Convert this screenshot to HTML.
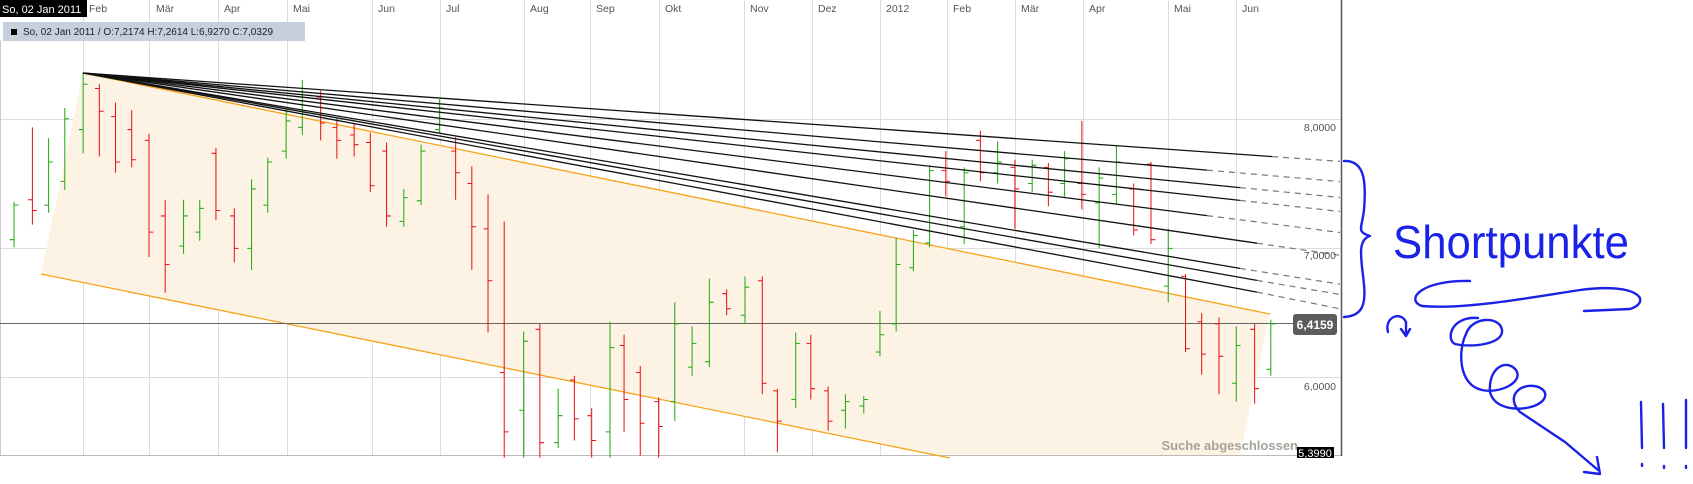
<!DOCTYPE html>
<html><head><meta charset="utf-8">
<style>
html,body{margin:0;padding:0;background:#fff;}
svg{display:block;}
text{font-family:"Liberation Sans",sans-serif;}
</style></head>
<body>
<svg width="1693" height="484" viewBox="0 0 1693 484" xmlns="http://www.w3.org/2000/svg">
<rect x="0" y="0" width="1693" height="484" fill="#fff"/>
<g stroke="#dcdcdc" stroke-width="1">
<line x1="83.5" y1="0" x2="83.5" y2="455"/><line x1="149.5" y1="0" x2="149.5" y2="455"/>
<line x1="218.5" y1="0" x2="218.5" y2="455"/><line x1="287.5" y1="0" x2="287.5" y2="455"/>
<line x1="372.5" y1="0" x2="372.5" y2="455"/><line x1="440.5" y1="0" x2="440.5" y2="455"/>
<line x1="524.5" y1="0" x2="524.5" y2="455"/><line x1="590.5" y1="0" x2="590.5" y2="455"/>
<line x1="659.5" y1="0" x2="659.5" y2="455"/><line x1="744.5" y1="0" x2="744.5" y2="455"/>
<line x1="812.5" y1="0" x2="812.5" y2="455"/><line x1="880.5" y1="0" x2="880.5" y2="455"/>
<line x1="947.5" y1="0" x2="947.5" y2="455"/><line x1="1015.5" y1="0" x2="1015.5" y2="455"/>
<line x1="1083.5" y1="0" x2="1083.5" y2="455"/><line x1="1168.5" y1="0" x2="1168.5" y2="455"/>
<line x1="1236.5" y1="0" x2="1236.5" y2="455"/>
<line x1="0" y1="119.5" x2="1341" y2="119.5"/><line x1="0" y1="248.5" x2="1341" y2="248.5"/>
<line x1="0" y1="377.5" x2="1341" y2="377.5"/>
</g>
<line x1="0" y1="455.5" x2="1341" y2="455.5" stroke="#bbb"/>
<line x1="1341.5" y1="0" x2="1341.5" y2="456" stroke="#555" stroke-width="1.5"/>
<line x1="0.5" y1="40" x2="0.5" y2="455" stroke="#ccc"/>
<polygon points="41,274 83,73 1270,314 1240,455 933,455" fill="#fdf3e4"/>
<line x1="83" y1="73" x2="1270" y2="314" stroke="#f7a21b" stroke-width="1.3"/>
<line x1="41" y1="274" x2="950" y2="458" stroke="#f7a21b" stroke-width="1.3"/>
<line x1="0" y1="323.5" x2="1294" y2="323.5" stroke="#666" stroke-width="1"/>
<g transform="scale(1.0797)" stroke-width="0.95" fill="none">
<path stroke="#22aa11" d="
M13,187V229M9,222H13M13,190H17
M45,128V197M41,190H45M45,150H49
M60,100V176M56,168H60M60,110H64
M77,68V142M73,120H77M77,78H81
M170,185V235M166,228H170M170,200H174
M185,185V223M181,215H185M185,193H189
M233,166V250M229,230H233M233,175H237
M248,146V197M244,190H248M248,150H252
M265,101V147M261,140H265M265,112H269
M280,74V125M276,118H280M280,104H284
M374,175V210M370,205H374M374,183H378
M390,134V190M386,186H390M390,140H394
M407,92V123M403,120H407M407,100H411
M485,307V424M481,380H485M485,316H489
M517,360V415M513,410H517M517,385H521
M565,298V424M561,400H565M565,322H569
M625,280V390M621,372H625M625,300H629
M641,302V348M637,340H641M641,318H645
M657,258V340M653,335H657M657,280H661
M690,256V300M686,292H690M690,266H694
M737,308V378M733,370H737M737,318H741
M783,365V397M779,380H783M783,372H787
M800,367V383M796,376H800M800,370H804
M815,288V330M811,326H815M815,310H819
M830,220V307M826,300H830M830,245H834
M846,213V251M842,248H846M846,218H850
M861,153V229M857,225H861M861,158H865
M893,155V226M889,210H893M893,160H897
M924,131V170M920,160H924M924,150H928
M956,148V178M952,170H956M956,153H960
M986,140V182M982,170H986M986,147H990
M1018,155V230M1014,188H1018M1018,165H1022
M1034,135V189M1030,180H1034M1034,150H1038
M1082,212V280M1078,265H1082M1082,230H1086
M1145,302V372M1141,355H1145M1145,320H1149
M1177,296V348M1173,342H1177M1177,300H1181"/>
<path stroke="#ee1111" d="
M30,118V208M26,185H30M30,195H34
M92,78V145M88,82H92M92,103H96
M107,95V160M103,108H107M107,150H111
M122,102V155M118,120H122M122,148H126
M138,124V238M134,130H138M138,215H142
M153,185V271M149,200H153M153,245H157
M200,137V204M196,142H200M200,195H204
M217,193V243M213,200H217M217,230H221
M297,84V130M293,90H297M297,114H301
M312,110V147M308,118H312M312,130H316
M328,115V145M324,125H328M328,134H332
M343,123V178M339,132H343M343,172H347
M358,132V210M354,140H358M358,200H362
M422,127V185M418,140H422M422,160H426
M437,154V250M433,170H437M437,210H441
M452,180V308M448,212H452M452,260H456
M467,205V424M463,345H467M467,400H471
M500,300V424M496,305H500M500,410H504
M532,348V408M528,352H532M532,388H536
M548,378V424M544,385H548M548,408H552
M578,310V400M574,320H578M578,370H582
M593,339V422M589,345H593M593,392H597
M610,368V424M606,372H610M610,395H614
M673,268V292M669,272H673M673,286H677
M706,256V365M702,260H706M706,355H710
M720,360V419M716,362H720M720,390H724
M751,310V370M747,318H751M751,360H755
M767,358V399M763,362H767M767,390H771
M876,140V182M872,158H876M876,168H880
M908,121V168M904,130H908M908,160H912
M940,148V212M936,155H940M940,175H944
M971,151V191M967,155H971M971,178H975
M1002,112V194M998,170H1002M1002,180H1006
M1050,170V218M1046,175H1050M1050,213H1054
M1066,150V226M1062,152H1066M1066,222H1070
M1098,254V326M1094,256H1098M1098,323H1102
M1113,290V347M1109,298H1113M1113,328H1117
M1129,294V365M1125,300H1129M1129,330H1133
M1162,300V374M1158,305H1162M1162,360H1166"/>
</g>
<g stroke="#111" stroke-width="1.3" fill="none">
<line x1="83" y1="73" x2="1272" y2="156.6"/>
<line x1="83" y1="73" x2="1207" y2="170.1"/>
<line x1="83" y1="73" x2="1240" y2="187.6"/>
<line x1="83" y1="73" x2="1240" y2="200.4"/>
<line x1="83" y1="73" x2="1207" y2="215.6"/>
<line x1="83" y1="73" x2="1257" y2="243.2"/>
<line x1="83" y1="73" x2="1240" y2="268.4"/>
<line x1="83" y1="73" x2="1257" y2="280.4"/>
<line x1="83" y1="73" x2="1257" y2="292.1"/>
</g>
<g stroke="#777" stroke-width="1.2" stroke-dasharray="6,5" fill="none">
<line x1="1272" y1="156.6" x2="1340" y2="161.4"/>
<line x1="1207" y1="170.1" x2="1340" y2="181.6"/>
<line x1="1240" y1="187.6" x2="1340" y2="197.5"/>
<line x1="1240" y1="200.4" x2="1340" y2="211.5"/>
<line x1="1207" y1="215.6" x2="1340" y2="232.5"/>
<line x1="1257" y1="243.2" x2="1340" y2="255.3"/>
<line x1="1240" y1="268.4" x2="1340" y2="284.2"/>
<line x1="1257" y1="280.4" x2="1340" y2="294.5"/>
<line x1="1257" y1="292.1" x2="1340" y2="308.8"/>
</g>
<rect x="0" y="0" width="87" height="17" fill="#000"/>
<text x="2" y="13" font-size="11" fill="#fff">So, 02 Jan 2011</text>
<g font-size="10.5" fill="#555">
<text x="89" y="12">Feb</text><text x="156" y="12">Mär</text><text x="224" y="12">Apr</text>
<text x="293" y="12">Mai</text><text x="378" y="12">Jun</text><text x="446" y="12">Jul</text>
<text x="530" y="12">Aug</text><text x="596" y="12">Sep</text><text x="665" y="12">Okt</text>
<text x="750" y="12">Nov</text><text x="818" y="12">Dez</text><text x="886" y="12">2012</text>
<text x="953" y="12">Feb</text><text x="1021" y="12">Mär</text><text x="1089" y="12">Apr</text>
<text x="1174" y="12">Mai</text><text x="1242" y="12">Jun</text>
</g>
<rect x="3" y="22" width="302" height="19" fill="#c6d0dc"/>
<rect x="11" y="29" width="6" height="6" fill="#000"/>
<text x="23" y="35" font-size="10" fill="#222">So, 02 Jan 2011 / O:7,2174  H:7,2614  L:6,9270  C:7,0329</text>
<g font-size="10.5" fill="#555" text-anchor="end">
<text x="1336" y="131">8,0000</text><text x="1336" y="259">7,0000</text><text x="1336" y="390">6,0000</text>
</g>
<rect x="1293" y="314" width="44" height="21" rx="3" fill="#5a5c5e"/>
<text x="1315" y="329" font-size="12" font-weight="bold" fill="#fff" text-anchor="middle">6,4159</text>
<text x="1298" y="450" font-size="13" font-weight="bold" fill="#a8a29c" text-anchor="end">Suche abgeschlossen</text>
<rect x="1297" y="447" width="37" height="11" fill="#000"/>
<text x="1315" y="457" font-size="11" fill="#fff" text-anchor="middle">5,3990</text>
<g stroke="#1a22e8" stroke-width="2.4" fill="none" stroke-linecap="round" stroke-linejoin="round">
<path d="M1344,161 C1366,160 1366,185 1364,210 C1362,228 1356,232 1370,236 C1356,240 1362,262 1364,285 C1366,305 1362,316 1344,317"/>
<path d="M1470,281 C1420,280 1405,300 1422,306 C1465,310 1540,296 1580,290 C1640,282 1652,302 1630,309 L1584,311"/>
<path d="M1388,332 C1384,318 1400,310 1406,322 L1406,335 M1401,329 L1406,336 L1410,329"/>
<path d="M1478,318 C1450,316 1446,340 1455,344 C1472,348 1504,344 1502,330 C1500,316 1472,316 1466,334 C1458,350 1458,385 1482,390 C1500,394 1524,382 1516,370 C1506,358 1488,368 1490,392 C1494,408 1516,412 1534,406 C1550,400 1548,388 1534,386 C1518,384 1506,398 1520,412 L1565,442 L1598,470 M1584,472 L1600,474 L1597,457"/>
<path d="M1641,402 L1642,448 M1663,404 L1664,448 M1686,400 L1686,448"/>
<path d="M1642,464 L1642,466 M1664,466 L1664,468 M1686,466 L1686,468"/>
</g>
<text x="1393" y="258" font-size="46" fill="#1a22e8" textLength="236" lengthAdjust="spacingAndGlyphs" font-family="'Liberation Sans Narrow','Liberation Sans',sans-serif">Shortpunkte</text>
</svg>
</body></html>
